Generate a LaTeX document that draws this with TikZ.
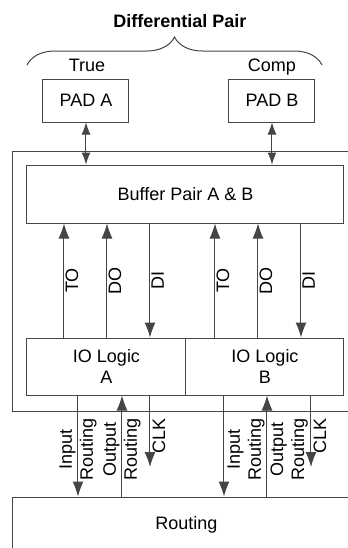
\documentclass[tikz,border=0pt]{standalone}
\usepackage{fontspec}
\setmainfont{Liberation Sans}
\usetikzlibrary{arrows.meta,decorations.pathreplacing}

\definecolor{linegray}{HTML}{454545}

\begin{document}
\begin{tikzpicture}[x=0.5pt,y=-0.5pt,line width=0.5pt,
  >={Latex[length=7.5pt,width=5.5pt]},
  font=\fontsize{9}{10.5}\selectfont]
  \tikzstyle{box}=[draw=linegray,inner sep=0pt,align=center]
  \tikzstyle{wire}=[draw=linegray,->]
  \tikzstyle{padwire}=[draw=linegray,{Latex[length=6pt,width=4.5pt]}-{Latex[length=6pt,width=4.5pt]}]
  \tikzstyle{vlabel}=[inner sep=0.5pt,rotate=90,align=center]

  \useasboundingbox (0,0) rectangle (348,548);
  \clip (0,0) rectangle (348,548);

  % pads and the pair
  \node[font=\fontsize{9}{10.5}\selectfont\bfseries] (diff) at (180,21.5) {Differential Pair};
  \coordinate (braceL) at (27,65);
  \coordinate (braceR) at (322,65);
  \draw[linegray,decorate,decoration={brace,amplitude=14pt}] (braceL) -- (braceR);
  \node[anchor=base] (true) at (87,71) {True};
  \node[anchor=base] (comp) at (272,71) {Comp};
  \node[box,minimum width=43pt,minimum height=21.5pt] (padA) at (86,100.5) {PAD A};
  \node[box,minimum width=43pt,minimum height=21.5pt] (padB) at (272,100.5) {PAD B};

  % IO block
  \node[box,minimum width=173.5pt,minimum height=130pt] (frame) at (186.5,281) {};
  \node[box,minimum width=158.5pt,minimum height=29pt] (buf) at (185.5,194) {Buffer Pair A \& B};
  \node[box,minimum width=79.5pt,minimum height=28.5pt] (ioA) at (106.5,366.5) {IO Logic\\A};
  \node[box,minimum width=79pt,minimum height=28.5pt] (ioB) at (265,366.5) {IO Logic\\B};
  \node[box,minimum width=173.5pt,minimum height=28pt] (routing) at (186.5,525) {Routing};

  \draw[padwire] (padA.south) -- (padA.south |- buf.north);
  \draw[padwire] (padB.south) -- (padB.south |- buf.north);

  % buffer <-> IO logic
  \coordinate (toA) at (64,0);
  \coordinate (doA) at (107,0);
  \coordinate (diA) at (150,0);
  \coordinate (toB) at (215,0);
  \coordinate (doB) at (258,0);
  \coordinate (diB) at (301,0);
  \draw[wire] (ioA.north -| toA) -- node[vlabel,anchor=north] {TO} (buf.south -| toA);
  \draw[wire] (ioA.north -| doA) -- node[vlabel,anchor=north] {DO} (buf.south -| doA);
  \draw[wire] (buf.south -| diA) -- node[vlabel,anchor=north] {DI} (ioA.north -| diA);
  \draw[wire] (ioB.north -| toB) -- node[vlabel,anchor=north] {TO} (buf.south -| toB);
  \draw[wire] (ioB.north -| doB) -- node[vlabel,anchor=north] {DO} (buf.south -| doB);
  \draw[wire] (buf.south -| diB) -- node[vlabel,anchor=north] {DI} (ioB.north -| diB);

  % IO logic <-> routing
  \coordinate (inA) at (78,0);
  \coordinate (outA) at (122,0);
  \coordinate (clkA) at (150,467);
  \coordinate (inB) at (224,0);
  \coordinate (outB) at (267,0);
  \coordinate (clkB) at (311,467);
  \draw[wire] (ioA.south -| inA) -- (routing.north -| inA);
  \draw[wire] (routing.north -| outA) -- (ioA.south -| outA);
  \draw[wire] (ioA.south -| clkA) -- (clkA);
  \draw[wire] (ioB.south -| inB) -- (routing.north -| inB);
  \draw[wire] (routing.north -| outB) -- (ioB.south -| outB);
  \draw[wire] (ioB.south -| clkB) -- (clkB);

  \node[vlabel,anchor=east] (inlabA) at ([yshift=-2.5pt]frame.south -| inA) {Input\\Routing};
  \node[vlabel,anchor=east] (outlabA) at ([yshift=-2.5pt]frame.south -| outA) {Output\\Routing};
  \node[vlabel,anchor=north east] (clklabA) at ([xshift=0.5pt,yshift=-2.5pt]frame.south -| clkA) {CLK};
  \node[vlabel,anchor=north east] (inlabB) at ([xshift=1pt,yshift=-2.5pt]frame.south -| inB) {Input\\Routing};
  \node[vlabel,anchor=north east] (outlabB) at ([xshift=1pt,yshift=-2.5pt]frame.south -| outB) {Output\\Routing};
  \node[vlabel,anchor=north east] (clklabB) at ([xshift=0.5pt,yshift=-2.5pt]frame.south -| clkB) {CLK};
\end{tikzpicture}
\end{document}
